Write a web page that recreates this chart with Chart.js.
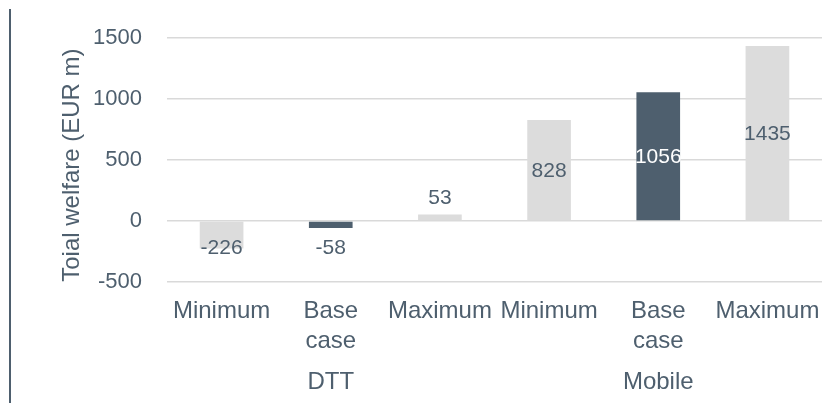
<!DOCTYPE html>
<html>
<head>
<meta charset="utf-8">
<script src="https://cdn.jsdelivr.net/npm/chart.js@4/dist/chart.umd.min.js"></script>
<style>
  html, body { margin: 0; padding: 0; background: #fff; }
  #wrap { position: relative; width: 822px; height: 403px; }
  #rule { position: absolute; left: 9px; top: 9px; width: 2px; height: 394px; background: #4e5f6e; }
</style>
</head>
<body>
<div id="wrap">
  <div id="rule"></div>
  <canvas id="welfare-chart" width="822" height="403"></canvas>
</div>
<script>
const categories = ['Minimum', ['Base', 'case'], 'Maximum', 'Minimum', ['Base', 'case'], 'Maximum'];
const groups = ['DTT', 'Mobile'];
const welfare = [-226, -58, 53, 828, 1056, 1435];
const yTicks = [-500, 0, 500, 1000, 1500];
const yTitle = 'Toial welfare (EUR m)';

const SLATE = '#4e5f6e';
const LIGHT = '#dcdcdc';
const FONT = '"Liberation Sans", Arial, sans-serif';

const isBase = label => Array.isArray(label);
const barColors = categories.map(c => (isBase(c) ? SLATE : LIGHT));

// value labels: centred in tall bars, just off the zero line for short ones
const valueLabels = {
    id: 'valueLabels',
    afterDatasetsDraw(chart) {
        const { ctx } = chart;
        const yScale = chart.scales.y;
        const zero = yScale.getPixelForValue(0);
        const meta = chart.getDatasetMeta(0);
        ctx.save();
        ctx.font = `21px ${FONT}`;
        ctx.textAlign = 'center';
        ctx.textBaseline = 'middle';
        meta.data.forEach((bar, i) => {
            const v = welfare[i];
            let y;
            let color = SLATE;
            if (Math.abs(v) < 300) {
                y = v < 0 ? zero + 27 : zero - 23;
            } else {
                y = (bar.y + bar.base) / 2 + 1;
                if (isBase(categories[i])) color = '#ffffff';
            }
            ctx.fillStyle = color;
            ctx.fillText(String(v), bar.x, y);
        });
        ctx.restore();
    }
};

// rotated y title, sits a little below the plot middle like the original
const axisTitle = {
    id: 'axisTitle',
    afterDraw(chart) {
        const { ctx, chartArea } = chart;
        ctx.save();
        ctx.translate(72, (chartArea.top + chartArea.bottom) / 2 + 5);
        ctx.rotate(-Math.PI / 2);
        ctx.font = `24px ${FONT}`;
        ctx.fillStyle = SLATE;
        ctx.textAlign = 'center';
        ctx.textBaseline = 'middle';
        ctx.fillText(yTitle, 0, 0);
        ctx.restore();
    }
};

const noSidePad = s => { s.paddingLeft = 0; s.paddingRight = 0; };

new Chart(document.getElementById('welfare-chart'), {
    type: 'bar',
    data: {
        labels: categories,
        datasets: [{
            data: welfare,
            backgroundColor: barColors,
            borderWidth: 0,
            barPercentage: 0.4,
            categoryPercentage: 1
        }]
    },
    options: {
        responsive: false,
        animation: false,
        layout: { padding: { top: 38, right: 0, left: 0, bottom: 0 } },
        plugins: { legend: { display: false }, tooltip: { enabled: false } },
        scales: {
            x: {
                weight: 0,
                grid: { display: false, drawTicks: false },
                border: { display: false },
                ticks: {
                    color: SLATE, padding: 15, maxRotation: 0, autoSkip: false,
                    font: { family: FONT, size: 24, lineHeight: 1.23 }
                },
                afterFit: s => { s.height = 80; noSidePad(s); }
            },
            x2: {
                type: 'category',
                position: 'bottom',
                weight: 1,
                labels: groups,
                offset: true,
                grid: { display: false, drawTicks: false },
                border: { display: false },
                ticks: { color: SLATE, padding: 6, font: { family: FONT, size: 24 } },
                afterFit: s => { s.height = 41; noSidePad(s); }
            },
            y: {
                min: -500, max: 1500,
                grid: { color: '#d9d9d9', lineWidth: 1.5, drawTicks: false },
                border: { display: false },
                afterBuildTicks: s => { s.ticks = yTicks.map(v => ({ value: v })); },
                ticks: {
                    color: SLATE, padding: 25, font: { family: FONT, size: 22 },
                    callback: v => String(v)
                },
                afterFit: s => { s.width = 167; }
            }
        }
    },
    plugins: [valueLabels, axisTitle]
});
</script>
</body>
</html>
